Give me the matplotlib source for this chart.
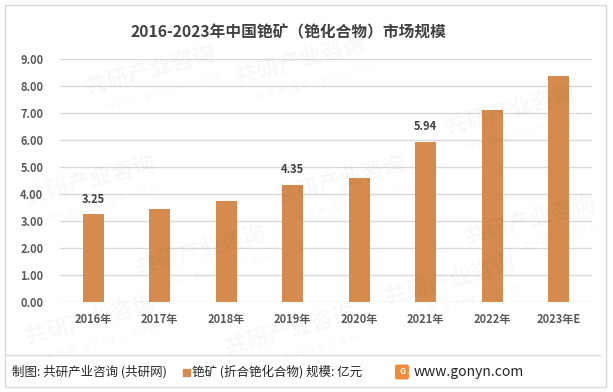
import matplotlib.pyplot as plt
from matplotlib.patches import Rectangle, FancyBboxPatch

plt.rcParams['font.family'] = ['Noto Sans CJK SC', 'DejaVu Sans']

# data
years = ['2016年', '2017年', '2018年', '2019年', '2020年', '2021年', '2022年', '2023年E']
values = [3.25, 3.45, 3.74, 4.35, 4.60, 5.94, 7.11, 8.37]
labeled = [0, 3, 5]  # bars that carry a value label
yticks = [0, 1, 2, 3, 4, 5, 6, 7, 8, 9]

bar_color = '#D48B4D'
text_color = '#404040'

fig = plt.figure(figsize=(6.13, 3.92), dpi=100)
W, H = 613, 392

# faint watermarks, kept inside the frame
for (x, y) in [(90, 320), (200, 250), (340, 180), (510, 110), (150, 70),
               (90, 180), (290, 330), (450, 280), (530, 220), (300, 60)]:
    fig.text(x / W, 1 - y / H, '共研产业咨询', fontsize=16, fontweight='bold',
             color='#000000', alpha=0.03, rotation=15, ha='center', va='center')
    fig.text(x / W + 0.02, 1 - (y + 22) / H, 'w w w . g o n y n . c o m', fontsize=8,
             color='#000000', alpha=0.035, rotation=15, ha='center', va='center')

ax = fig.add_axes([60 / W, 90 / H, 532 / W, 243 / H])
x = range(len(years))
ax.bar(x, values, width=0.31, color=bar_color, zorder=3)
ax.set_xlim(-0.5, len(years) - 0.5)
ax.set_ylim(0, 9)
ax.set_yticks(yticks)
ax.set_yticklabels(['%.2f' % t for t in yticks])
ax.set_xticks(list(x))
ax.set_xticklabels(years)
ax.grid(axis='y', color='#D9D9D9', linewidth=1, zorder=0)
ax.set_axisbelow(True)
for s in ax.spines.values():
    s.set_visible(False)
ax.tick_params(length=0)
ax.tick_params(axis='y', labelsize=8, labelcolor='#595959', pad=12)
ax.tick_params(axis='x', labelsize=8, labelcolor='#595959', pad=8)
for lab in ax.get_xticklabels() + ax.get_yticklabels():
    lab.set_fontweight('bold')
ax.patch.set_alpha(0)

for i in labeled:
    ax.annotate('%.2f' % values[i], (i, values[i]), xytext=(0, 6),
                textcoords='offset points', ha='center', va='bottom',
                fontsize=8, fontweight='bold', color=text_color)

fig.text(288 / W, 1 - 32 / H, '2016-2023年中国铯矿（铯化合物）市场规模',
         ha='center', va='center', fontsize=11.3, fontweight='bold', color=text_color)

# frame and footer separator
fig.add_artist(Rectangle((5 / W, 5 / H), 601 / W, 382 / H, transform=fig.transFigure,
                         fill=False, edgecolor='#D9D9D9', linewidth=1))
fig.add_artist(plt.Line2D([5 / W, 600 / W], [1 - 355 / H, 1 - 355 / H],
                          transform=fig.transFigure, color='#D9D9D9', linewidth=1))

fy = 1 - 372 / H
fig.text(12 / W, fy, '制图: 共研产业咨询 (共研网)', ha='left', va='center',
         fontsize=9, color='#262626')
fig.add_artist(Rectangle((183 / W, fy - 3.5 / H), 7 / W, 7 / H,
                         transform=fig.transFigure, color=bar_color))
fig.text(192 / W, fy, '铯矿 (折合铯化合物) 规模: 亿元', ha='left', va='center',
         fontsize=9, color='#262626')
fig.add_artist(FancyBboxPatch((397 / W, fy - 6 / H), 10 / W, 12 / H,
                              boxstyle='round,pad=0.002', transform=fig.transFigure,
                              color='#F08C3C'))
fig.text(402 / W, fy, 'G', ha='center', va='center', fontsize=6,
         fontweight='bold', color='white')
fig.text(414 / W, fy, 'www.gonyn.com', ha='left', va='center',
         fontsize=10, color='#262626')

fig.savefig('out.png', dpi=100)
